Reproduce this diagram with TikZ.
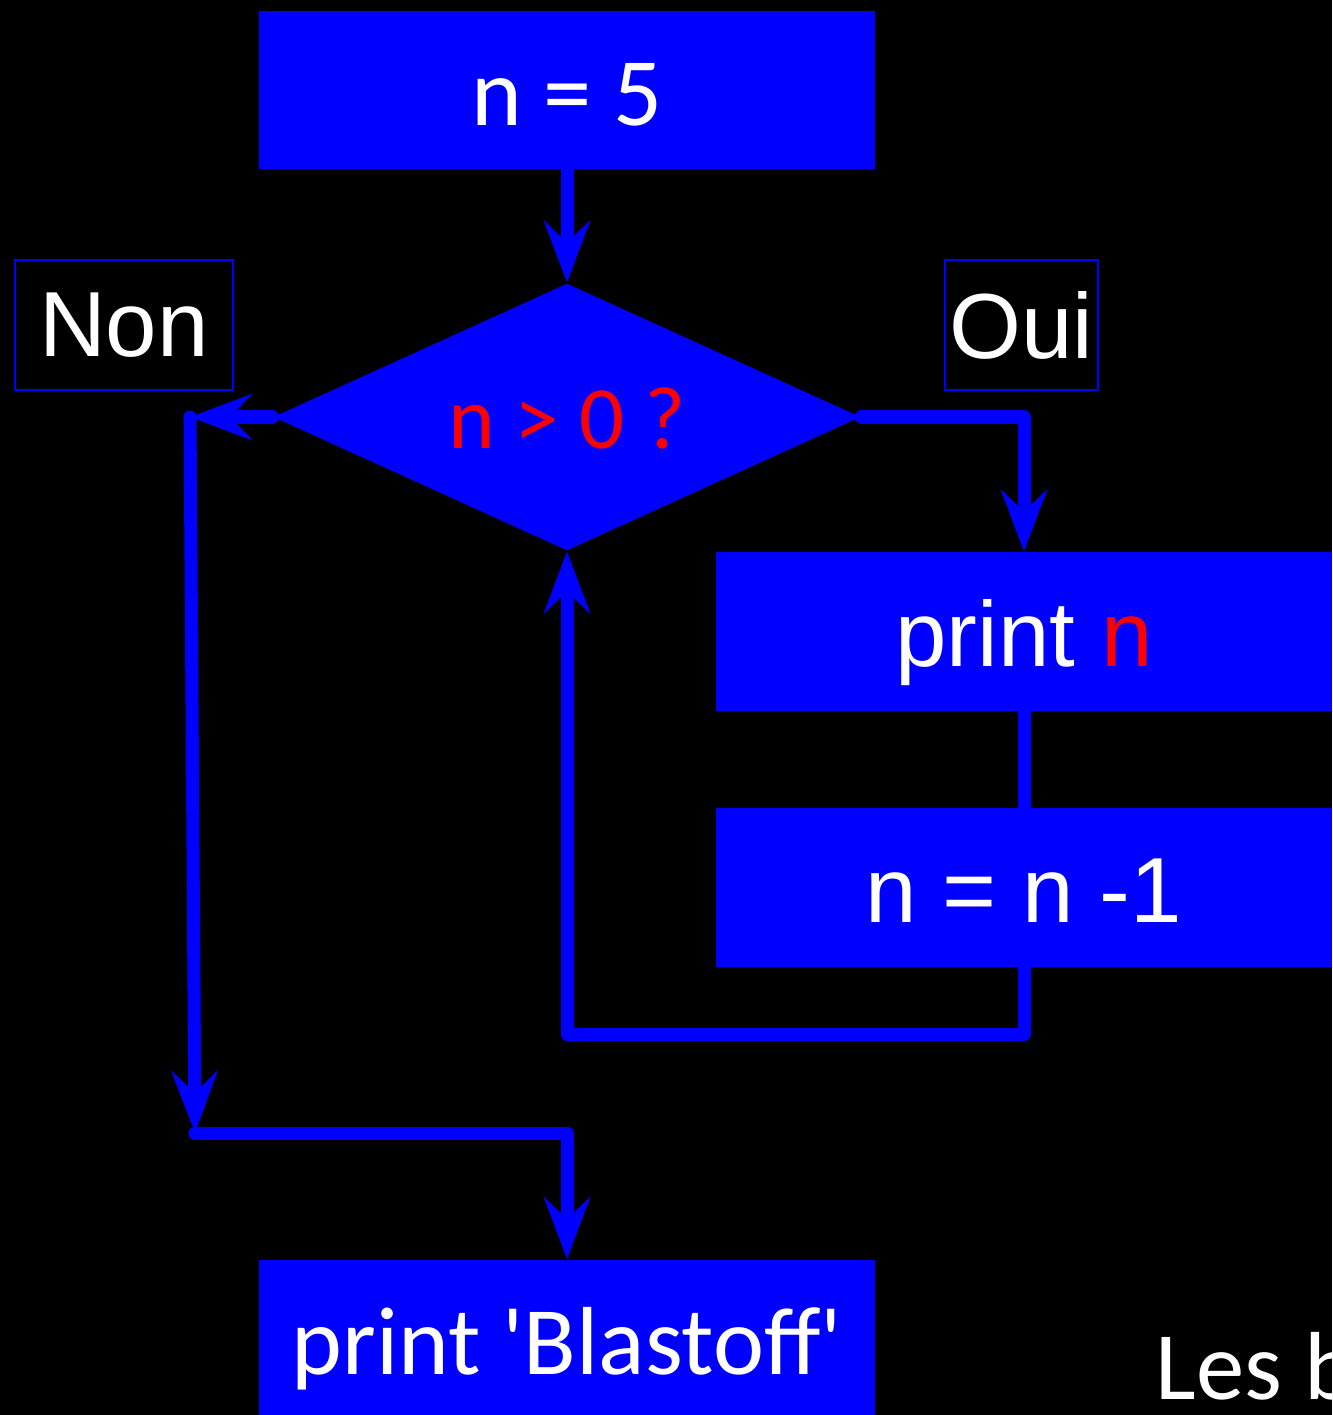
\documentclass[tikz,border=0pt]{standalone}
\usepackage{fontspec}
\setmainfont{Liberation Sans}
\newfontfamily\humfont{Carlito}
\usetikzlibrary{arrows.meta,shapes.geometric}

\begin{document}
\begin{tikzpicture}[x=0.01cm,y=-0.01cm,
		box/.style={fill=blue,text=white,inner sep=0pt,minimum width=6.16cm,minimum height=1.58cm,
			text height=0.75cm,text depth=0.05cm},
		tag/.style={draw=blue,line width=0.6pt,text=white,inner sep=0pt,minimum height=1.30cm},
		flow/.style={draw=blue,line width=3.7pt,line cap=round,line join=round},
		big/.style={font=\fontsize{26.3}{30}\selectfont},
		hum/.style={font=\humfont\fontsize{27.5}{32}\selectfont},
		>={Stealth[length=0.62cm,width=0.46cm,inset=0.22cm]}]
		\fill[black] (0,0) rectangle (1332,1415);
		\useasboundingbox (0,0) rectangle (1332,1415);
		%
		\node[box,hum] (init) at (567,90) {n = 5};
		\node[diamond,aspect=2.2,fill=blue,text=red,inner sep=0pt,minimum width=5.87cm,minimum height=2.67cm,
			text height=0.7cm,text depth=0.08cm,font=\humfont\fontsize{25.3}{30}\selectfont] (test) at (567,417) {n > 0 ?};
		\node[tag,big,minimum width=2.18cm] (non) at (124,325) {Non};
		\node[tag,big,minimum width=1.53cm] (oui) at (1021.5,325) {Oui};
		\node[box,big] (printn) at (1024,631.5) {print \textcolor{red}{n}};
		\node[box,big] (dec) at (1024,887.5) {n = n -1};
		\node[box,hum] (blast) at (567,1339) {print \textquotesingle Blastoff\textquotesingle};
		\node[hum,text=white,inner sep=0pt,anchor=base west] (les) at (1155,1399) {Les b};
		%
		\coordinate (nonA) at (190,417);
		\coordinate (nonB) at (195,1133);
		\coordinate (ouiA) at (1024,417);
		\coordinate (loopA) at (1024,1034);
		\coordinate (loopB) at (567,1034);
		%
		% main line
		\draw[flow,->] (init) -- (test);
		% branch Non
		\draw[flow,->] (test.west) -- (nonA);
		\draw[flow,->] (nonA) -- (nonB);
		\draw[flow,->] (nonB) -- (nonB -| blast.north) -- (blast.north);
		% branch Oui and loop back
		\draw[flow,->] (test.east) -- (ouiA) -- (printn.north);
		\draw[flow] (printn) -- (dec);
		\draw[flow,->] (dec.south) -- (loopA) -- (loopB) -- (test.south);
\end{tikzpicture}
\end{document}
